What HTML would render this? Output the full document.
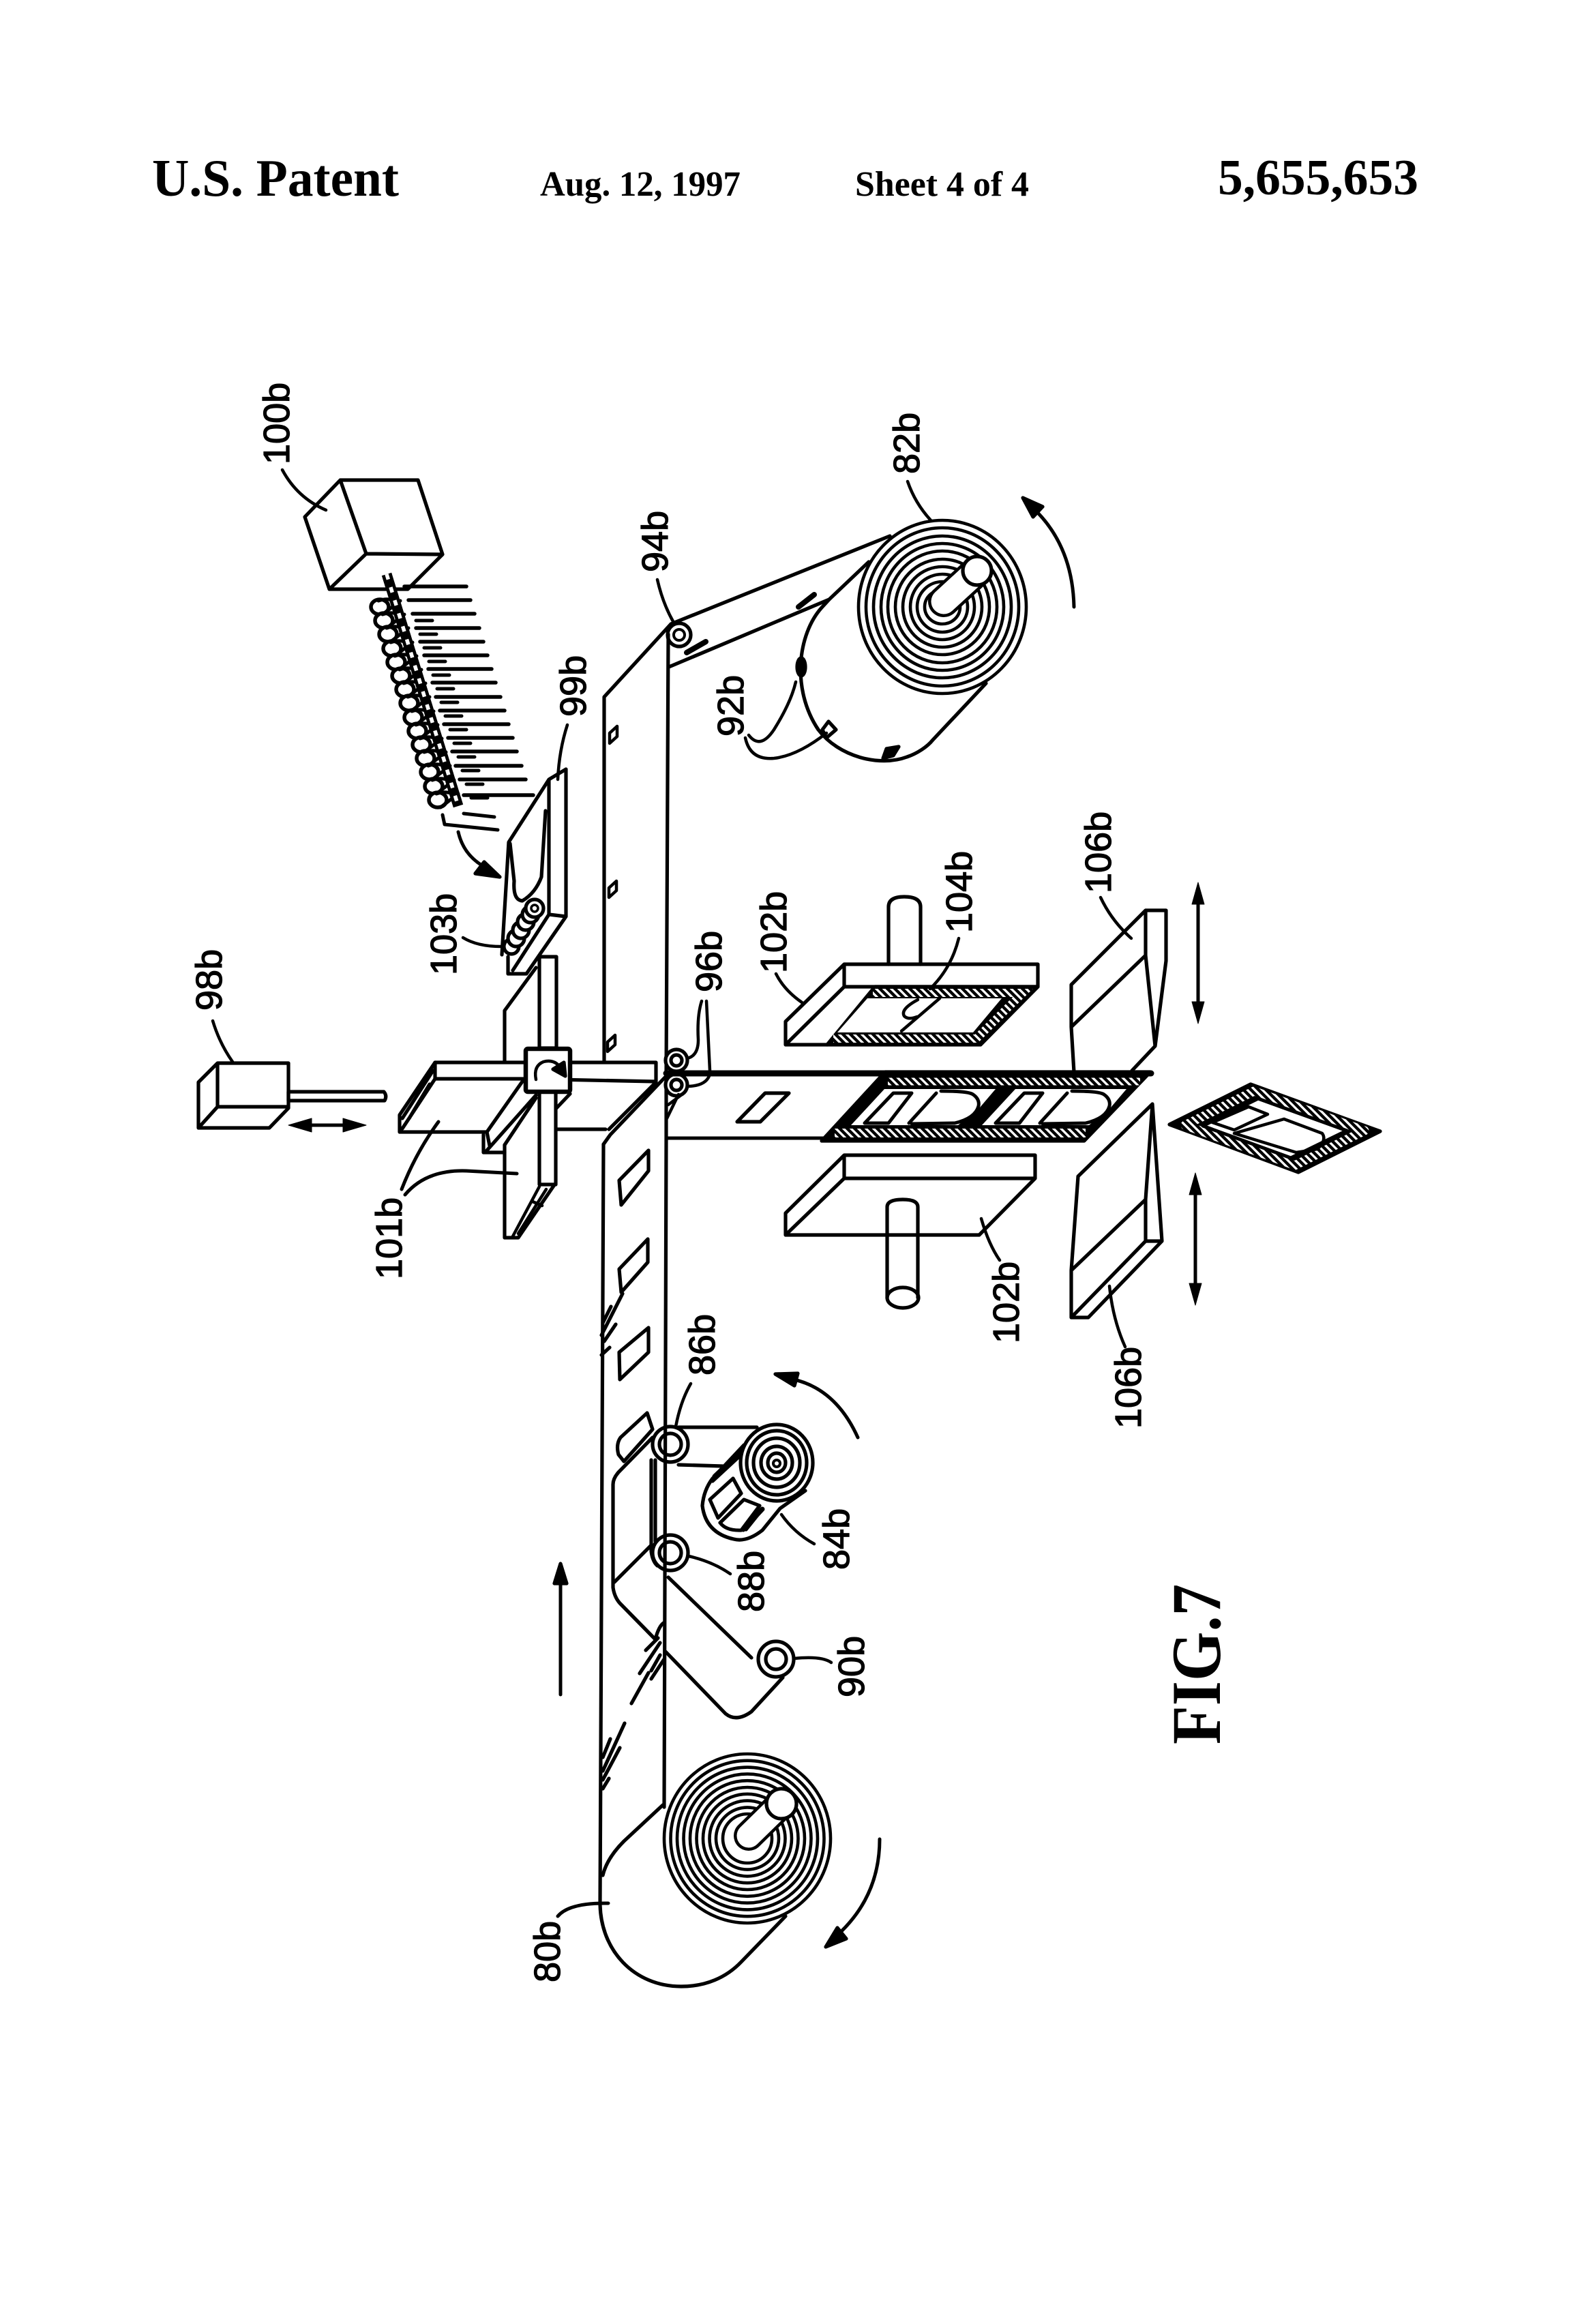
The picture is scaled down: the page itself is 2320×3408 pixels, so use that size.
<!DOCTYPE html>
<html><head><meta charset="utf-8"><title>U.S. Patent 5,655,653 FIG.7</title>
<style>html,body{margin:0;padding:0;background:#fff}svg{display:block}
.l{font-family:"Liberation Sans",sans-serif;font-size:54px;fill:#000;stroke:#000;stroke-width:1.3px}
.h{font-family:"Liberation Serif",serif;font-weight:bold;fill:#000}</style></head>
<body>
<svg xmlns="http://www.w3.org/2000/svg" width="2320" height="3408" viewBox="0 0 2320 3408">
<defs>
<pattern id="ht" patternUnits="userSpaceOnUse" width="11" height="11">
<rect width="11" height="11" fill="#000"/>
<path d="M-2,-2 L13,13 M-2,9 L2,13 M9,-2 L13,2" stroke="#fff" stroke-width="3.4"/>
</pattern>
<g id="c">
<ellipse rx="13" ry="11" fill="#fff" stroke="#000" stroke-width="5.5"/>
<path d="M4,11 L30,-9 M-2,-9 Q12,-14 24,-8" fill="none" stroke="#000" stroke-width="5"/>
</g>
</defs>
<rect width="2320" height="3408" fill="#fff"/>

<text class="h" x="223" y="287" font-size="77" textLength="362" lengthAdjust="spacingAndGlyphs">U.S. Patent</text>
<text class="h" x="792" y="287" font-size="52" textLength="294" lengthAdjust="spacingAndGlyphs">Aug. 12, 1997</text>
<text class="h" x="1254" y="287" font-size="52" textLength="255" lengthAdjust="spacingAndGlyphs">Sheet 4 of 4</text>
<text class="h" x="1786" y="285" font-size="74" textLength="294" lengthAdjust="spacingAndGlyphs">5,655,653</text>
<text class="h" transform="translate(1789,2558) rotate(-90) scale(1,1.1)" font-size="93">FIG.7</text>

<g fill="none" stroke="#000" stroke-width="5.2" stroke-linecap="round" stroke-linejoin="round">
<!-- cube 100b -->
<path d="M499,704 L613,704 L649,813 L598,864 L483,864 L447,758 Z M499,704 L537,812 L649,813 M537,812 L483,864"/>
<path d="M414,689 Q436,730 478,748" stroke-width="4.5"/>
<!-- tines -->
<path d="M593,860H684M599,880H690M605,900H696M610,921H703M616,941H709M622,961H715M628,981H721M634,1001H727M639,1022H734M645,1042H740M651,1062H746M657,1082H752M663,1102H758M668,1123H765M674,1143H771M680,1166H782" stroke-width="5.5"/>
<path d="M610,910H634M616,930H640M622,950H646M629,970H653M635,990H659M641,1010H665M647,1030H671M653,1050H677M660,1070H684M666,1090H690M672,1110H696M678,1130H702M684,1150H708M691,1170H715M680,1193L725,1198" stroke-width="5"/>
<path d="M649,1195 L652,1209 L730,1217" stroke-width="5"/>
<!-- coils -->
<use href="#c" x="557" y="890"/><use href="#c" x="563" y="910"/><use href="#c" x="569" y="930"/><use href="#c" x="575" y="951"/><use href="#c" x="581" y="971"/><use href="#c" x="588" y="991"/><use href="#c" x="594" y="1011"/><use href="#c" x="600" y="1031"/><use href="#c" x="606" y="1052"/><use href="#c" x="612" y="1072"/><use href="#c" x="618" y="1092"/><use href="#c" x="624" y="1112"/><use href="#c" x="630" y="1132"/><use href="#c" x="636" y="1153"/><use href="#c" x="642" y="1173"/>
<path d="M567,842 L672,1182" stroke-width="15" stroke-linecap="butt"/>
<path d="M567,842 L672,1182" stroke="#fff" stroke-width="5.5" stroke-dasharray="8 12" stroke-linecap="butt"/>
<path d="M672,1220 Q680,1255 712,1272" stroke-width="5"/>
<path d="M733,1286 L697,1281 L710,1264 Z" fill="#000"/>

<!-- belt -->
<path d="M984,915 L886,1022 L886,1558 M885,1678 L880,2790 C880,2860 930,2913 999,2913 C1035,2913 1065,2900 1087,2877 L1152,2810"/>
<path d="M980,930 L977,1574 L977,1669 L974,2650"/>
<path d="M972,2647 L915,2700 Q890,2725 884,2750"/>
<!-- upper web + roll 82b -->
<path d="M984,915 L1305,786 M981,978 L1216,879 L1274,824"/>
<path d="M1216,879 L1205,891 C1170,930 1160,1010 1200,1070 C1230,1110 1290,1125 1330,1110 C1345,1105 1360,1095 1368,1085 L1446,1002"/>
<g stroke-width="4.6">
<ellipse cx="1382" cy="890" rx="123" ry="127"/><ellipse cx="1382" cy="890" rx="112" ry="116"/><ellipse cx="1382" cy="890" rx="101" ry="104"/><ellipse cx="1382" cy="890" rx="90" ry="93"/><ellipse cx="1382" cy="890" rx="80" ry="82"/><ellipse cx="1382" cy="890" rx="69" ry="70"/><ellipse cx="1382" cy="890" rx="58" ry="59"/><ellipse cx="1382" cy="890" rx="47" ry="48"/><ellipse cx="1382" cy="890" rx="37" ry="37"/><ellipse cx="1382" cy="890" rx="26" ry="25"/>
</g>
<path d="M1384,882 L1433,837" stroke-width="46"/><path d="M1384,882 L1433,837" stroke="#fff" stroke-width="37"/>
<circle cx="1433" cy="837" r="21" fill="#fff"/>
<path d="M1331,706 Q1342,738 1365,763" stroke-width="4.5"/>
<path d="M1575,890 Q1573,800 1515,745" stroke-width="5"/>
<path d="M1500,730 L1529,743 L1515,758 Z" fill="#000"/>
<!-- tabs -->
<path d="M1171,890 L1194,872 M1007,957 L1035,941" stroke-width="8"/>
<ellipse cx="1175" cy="978" rx="6" ry="13" fill="#000"/>
<path d="M1215,1058 L1226,1070 L1212,1082 L1206,1070 Z" />
<path d="M1295,1112 L1300,1098 L1318,1095 L1310,1108 Z" fill="#000"/>
<path d="M1098,1078 Q1115,1100 1135,1070 Q1160,1030 1167,1000 M1093,1082 Q1100,1115 1135,1112 Q1170,1108 1212,1075" stroke-width="4.5"/>
<!-- 94b roller -->
<circle cx="996" cy="931" r="17"/><circle cx="996" cy="931" r="8" stroke-width="4"/>
<path d="M964,850 Q972,885 988,913" stroke-width="4.5"/>
<!-- small diamonds on belt -->
<path d="M905,1065 L905,1080 L894,1090 L894,1075 Z M904,1292 L904,1306 L893,1316 L893,1302 Z M902,1518 L902,1532 L891,1542 L891,1528 Z" stroke-width="4.5"/>

<!-- 99b plate -->
<path d="M830,1128 L805,1143 L746,1235 L736,1400 M830,1128 L830,1344 L772,1428 L745,1428 L745,1403 M805,1143 L805,1341 L752,1423 M805,1341 L830,1344"/>
<path d="M800,1189 L794,1286 Q785,1310 766,1321 Q752,1320 754,1292 L748,1237"/>
<path d="M832,1063 Q820,1100 818,1143" stroke-width="4.5"/>
<!-- 103b rolls -->
<g fill="#fff"><circle cx="750" cy="1388" r="11"/><circle cx="757" cy="1376" r="12"/><circle cx="764" cy="1364" r="12"/><circle cx="771" cy="1352" r="12"/><circle cx="778" cy="1341" r="12"/><circle cx="784" cy="1332" r="13"/><circle cx="784" cy="1332" r="5" stroke-width="3.5"/></g>
<path d="M679,1375 Q700,1388 735,1388" stroke-width="4.5"/>

<!-- rotary: vertical bar and plates -->
<path d="M740,1482 L786,1419 M740,1482 L740,1556 M740,1679 L740,1815 L760,1815 L814,1736"/>
<path d="M791,1403 H816 V1537 H791 Z M791,1601 H815 V1737 H791 Z" fill="#fff"/>
<path d="M791,1740 L752,1813 M801,1744 L760,1809 M781,1762 L795,1768" stroke-width="4.5"/>
<path d="M638,1558 H962 V1586 L764,1582 H638 Z" fill="#fff"/>
<path d="M638,1558 L586,1635 V1660 H714 L766,1586 M635,1570 L590,1640 M638,1582 L590,1655 M630,1590 L600,1640" />
<path d="M709,1664 V1690 H740 M714,1687 L786,1606 M740,1679 L786,1610 M714,1660 L718,1680"/>
<path d="M816,1625 L836,1604 M816,1656 H888"/>
<path d="M962,1587 L893,1656 M975,1580 L895,1664 L885,1678"/>
<rect x="771" y="1538" width="65" height="63" rx="3" fill="#fff" stroke-width="6.5"/>
<path d="M786,1583 Q782,1563 797,1557 Q815,1552 825,1570" stroke-width="4.5"/>
<path d="M829,1578 L811,1568 L827,1558 Z" fill="#000"/>
<path d="M1010,1593 Q1034,1592 1040,1578" stroke-width="4.5"/>
<!-- 96b rollers -->
<circle cx="992" cy="1555" r="16" fill="#fff"/><circle cx="992" cy="1555" r="8"/>
<circle cx="992" cy="1591" r="16" fill="#fff"/><circle cx="992" cy="1591" r="8"/>
<path d="M1029,1468 Q1022,1490 1024,1525 Q1024,1548 1008,1552 M1036,1468 L1041,1570" stroke-width="4.5"/>
<path d="M980,1620 L1000,1605 M978,1640 L995,1605" stroke-width="4.5"/>

<!-- 98b -->
<path d="M319,1559 H423 V1625 L395,1654 H291 V1587 Z M319,1559 V1623 H423 M319,1623 L291,1654" />
<path d="M423,1601 H563 Q568,1607 564,1614 H423 Z" />
<path d="M312,1497 Q322,1530 341,1557" stroke-width="4.5"/>
<path d="M440,1650 H522" stroke-width="5"/>
<path d="M423,1650 L457,1640 V1660 Z M537,1650 L503,1640 V1660 Z" fill="#000" stroke-width="1"/>
<path d="M589,1744 Q610,1690 643,1645 M594,1752 Q625,1715 684,1717 L758,1721" stroke-width="5"/>

<!-- patches -->
<path d="M951,1687 V1717 L911,1767 L908,1731 Z M950,1817 V1851 L911,1895 L908,1861 Z M951,1947 V1983 L909,2023 L908,1983 Z"/>
<path d="M949,2072 L957,2096 L915,2143 L907,2133 Q903,2118 910,2108 Z"/>
<path d="M1122,1603 H1157 L1115,1645 H1081 Z"/>
<!-- fold marks -->
<path d="M913,1897 L882,1958 M896,1916 L884,1940 M903,1942 L886,1967 M894,1976 L882,1987"/>
<path d="M926,2498 L951,2453 M968,2427 L955,2450 M938,2454 L968,2409 M955,2462 L974,2433 M947,2420 L965,2402"/>
<path d="M961,2404 Q966,2385 973,2380"/>
<path d="M916,2527 L884,2597 M895,2550 L884,2577 M909,2563 L884,2610 M893,2608 L884,2623"/>

<!-- 86/88/90 web -->
<path d="M995,2093 H1110 M995,2148 L1060,2150"/>
<path d="M957,2108 L907,2159 Q899,2168 899,2177 V2328 Q901,2342 909,2351 L961,2404"/>
<path d="M955,2141 V2275 Q957,2290 964,2296 M961,2141 V2260 M901,2320 L955,2266"/>
<path d="M980,2313 L1102,2431 M976,2422 L1064,2513 Q1080,2526 1102,2510 L1148,2460"/>
<circle cx="983" cy="2118" r="26"/><circle cx="983" cy="2118" r="16"/>
<circle cx="983" cy="2277" r="26"/><circle cx="983" cy="2277" r="16"/>
<circle cx="1138" cy="2433" r="26" fill="#fff"/><circle cx="1138" cy="2433" r="15"/>
<path d="M1013,2029 Q998,2055 991,2092 M1010,2282 Q1045,2290 1071,2308 M1165,2432 Q1205,2428 1219,2438" stroke-width="4.5"/>
<!-- roll 84b -->
<path d="M1181,2186 L1144,2212 L1118,2244 Q1095,2262 1076,2257 Q1035,2248 1030,2208 Q1032,2185 1045,2168 L1091,2119" fill="#fff"/>
<path d="M1041,2199 L1075,2168 L1087,2190 L1053,2226 Z M1056,2233 L1091,2199 L1114,2208 L1087,2244 Q1065,2245 1056,2233 Z M1045,2172 L1085,2135 M1094,2243 L1118,2213" />
<path d="M1048,2165 L1085,2130 M1090,2243 L1118,2213" stroke-width="7"/>
<ellipse cx="1139" cy="2145" rx="53" ry="56" fill="#fff"/><ellipse cx="1139" cy="2145" rx="44" ry="47"/><ellipse cx="1139" cy="2145" rx="34" ry="36"/><ellipse cx="1139" cy="2145" rx="23" ry="24"/><ellipse cx="1139" cy="2145" rx="13" ry="14"/><circle cx="1139" cy="2146" r="5" stroke-width="4"/>
<path d="M1146,2221 Q1165,2248 1194,2264" stroke-width="4.5"/>
<path d="M822,2485 V2320" stroke-width="5"/>
<path d="M822,2293 L813,2322 H831 Z" fill="#000"/>
<path d="M1258,2108 Q1225,2035 1160,2022" stroke-width="5"/>
<path d="M1137,2015 L1170,2014 L1165,2032 Z" fill="#000"/>

<!-- roll 80b -->
<g stroke-width="4.6">
<ellipse cx="1096" cy="2696" rx="122" ry="124"/><ellipse cx="1096" cy="2696" rx="112.5" ry="114.2"/><ellipse cx="1096" cy="2696" rx="103" ry="104.4"/><ellipse cx="1096" cy="2696" rx="93.5" ry="94.6"/><ellipse cx="1096" cy="2696" rx="84" ry="84.8"/><ellipse cx="1096" cy="2696" rx="74.5" ry="75"/><ellipse cx="1096" cy="2696" rx="65" ry="65.2"/><ellipse cx="1096" cy="2696" rx="55.5" ry="55.4"/><ellipse cx="1096" cy="2696" rx="46" ry="45.6"/><ellipse cx="1096" cy="2696" rx="36" ry="36"/>
</g>
<path d="M1098,2692 L1146,2645" stroke-width="44"/><path d="M1098,2692 L1146,2645" stroke="#fff" stroke-width="35"/>
<circle cx="1146" cy="2645" r="22" fill="#fff"/>
<path d="M818,2810 Q835,2790 892,2791" stroke-width="5"/>
<path d="M1290,2697 Q1290,2785 1222,2843" stroke-width="5"/>
<path d="M1211,2855 L1228,2827 L1241,2843 Z" fill="#000"/>

<!-- strip with pockets -->
<path d="M977,1669 H1213" stroke-width="5"/>
<path d="M977,1574 H1688" stroke-width="9"/>
<path d="M1298,1572 H1687 L1590,1673 H1205 Z" fill="#000" stroke="#000"/>
<path d="M1302,1586 H1672" stroke="url(#ht)" stroke-width="11" stroke-linecap="butt"/>
<path d="M1224,1661.5 H1592" stroke="url(#ht)" stroke-width="13" stroke-linecap="butt"/>
<path d="M1297,1597 H1460 L1437,1624 L1405,1650 H1248 Z" fill="#fff" stroke="none"/>
<path d="M1489,1597 H1652 L1629,1624 L1597,1650 H1440 Z" fill="#fff" stroke="none"/>
<g stroke-width="5">
<path d="M1310,1603 H1337 L1303,1647 H1268 Z"/><path d="M1380,1600 Q1420,1600 1427,1605 Q1437,1612 1435,1622 Q1430,1640 1400,1647 L1337,1648 M1373,1603 L1333,1647"/>
<path d="M1502,1603 H1529 L1495,1647 H1460 Z"/><path d="M1572,1600 Q1612,1600 1619,1605 Q1629,1612 1627,1622 Q1622,1640 1592,1647 L1529,1648 M1565,1603 L1525,1647"/>
</g>

<!-- 102b upper -->
<path d="M1303,1414 V1330 Q1303,1315 1326,1315 Q1350,1315 1350,1330 V1414"/>
<path d="M1238,1414 H1522 V1447 H1238 Z M1238,1414 L1152,1498 V1532 L1238,1447 M1152,1532 H1213"/>
<path d="M1283,1447 H1522 L1438,1532 H1213 Z" fill="#000"/>
<path d="M1280,1456 H1500 L1432,1523 H1222" stroke="url(#ht)" stroke-width="12" stroke-linecap="butt" stroke-linejoin="miter"/>
<path d="M1272,1464 H1469 L1427,1514 H1228 Z" fill="#fff" stroke="none"/>
<path d="M1322,1512 L1378,1464 M1346,1466 Q1320,1480 1326,1490 Q1332,1496 1345,1491" stroke-width="4.5"/>
<path d="M1138,1428 Q1150,1452 1176,1470 M1406,1376 Q1395,1420 1364,1450" stroke-width="4.5"/>
<!-- 102b lower -->
<path d="M1238,1694 H1518 V1728 H1238 Z M1238,1694 L1152,1779 V1811 L1238,1728 M1152,1811 H1436 L1518,1728"/>
<path d="M1301,1811 V1770 Q1301,1759 1324,1759 Q1346,1759 1346,1770 V1903 M1301,1811 V1903"/>
<ellipse cx="1324" cy="1903" rx="23" ry="15"/>
<path d="M1439,1787 Q1450,1825 1466,1848 M1627,1886 Q1632,1935 1650,1975" stroke-width="4.5"/>
<!-- 106b upper -->
<path d="M1680,1335 H1710 V1409 L1694,1534 L1660,1570 M1680,1335 L1571,1444 V1506 L1575,1572 M1680,1335 V1401 L1571,1506 M1680,1401 L1694,1534 M1710,1409 L1694,1534"/>
<path d="M1614,1316 Q1630,1350 1659,1376" stroke-width="4.5"/>
<!-- 106b lower -->
<path d="M1690,1619 L1581,1725 L1571,1863 V1932 H1596 L1704,1820 H1680 V1759 L1571,1863 M1690,1619 L1680,1759 M1690,1619 L1704,1820 M1680,1820 L1571,1932"/>
<!-- double arrows -->
<path d="M1757,1320 V1475 M1753,1745 V1890" stroke-width="5"/>
<path d="M1757,1294 L1748,1326 H1766 Z M1757,1501 L1748,1469 H1766 Z M1753,1720 L1744,1752 H1762 Z M1753,1914 L1744,1882 H1762 Z" fill="#000" stroke-width="1"/>

<!-- loose diamond -->
<path d="M1834,1590 L2024,1659 L1904,1719 L1715,1649 Z" fill="#000"/>
<path d="M1839,1600 L2001,1658 L1899,1709 L1738,1650 Z" stroke="url(#ht)" stroke-width="13" stroke-linecap="butt"/>
<path d="M1845,1611 L1975,1658 L1893,1698 L1764,1651 Z" fill="#fff" stroke-width="5"/>
<path d="M1778,1646 L1831,1623 L1859,1634 L1810,1657 Z M1883,1641 L1939,1662 Q1946,1672 1932,1685 L1901,1690 L1810,1662 M1883,1641 L1810,1662" stroke-width="4.5"/>
</g>

<text class="l" transform="translate(424,681) rotate(-90)">100b</text>
<text class="l" transform="translate(325,1482) rotate(-90)">98b</text>
<text class="l" transform="translate(859,1051) rotate(-90)">99b</text>
<text class="l" transform="translate(979,839) rotate(-90)">94b</text>
<text class="l" transform="translate(1348,695) rotate(-90)">82b</text>
<text class="l" transform="translate(1090,1080) rotate(-90)">92b</text>
<text class="l" transform="translate(669,1430) rotate(-90)">103b</text>
<text class="l" transform="translate(589,1876) rotate(-90)">101b</text>
<text class="l" transform="translate(1058,1455) rotate(-90)">96b</text>
<text class="l" transform="translate(1153,1427) rotate(-90)">102b</text>
<text class="l" transform="translate(1425,1368) rotate(-90)">104b</text>
<text class="l" transform="translate(1629,1310) rotate(-90)">106b</text>
<text class="l" transform="translate(1494,1970) rotate(-90)">102b</text>
<text class="l" transform="translate(1673,2095) rotate(-90)">106b</text>
<text class="l" transform="translate(1048,2017) rotate(-90)">86b</text>
<text class="l" transform="translate(1120,2364) rotate(-90)">88b</text>
<text class="l" transform="translate(1245,2302) rotate(-90)">84b</text>
<text class="l" transform="translate(1267,2489) rotate(-90)">90b</text>
<text class="l" transform="translate(821,2907) rotate(-90)">80b</text>
</svg>
</body></html>
